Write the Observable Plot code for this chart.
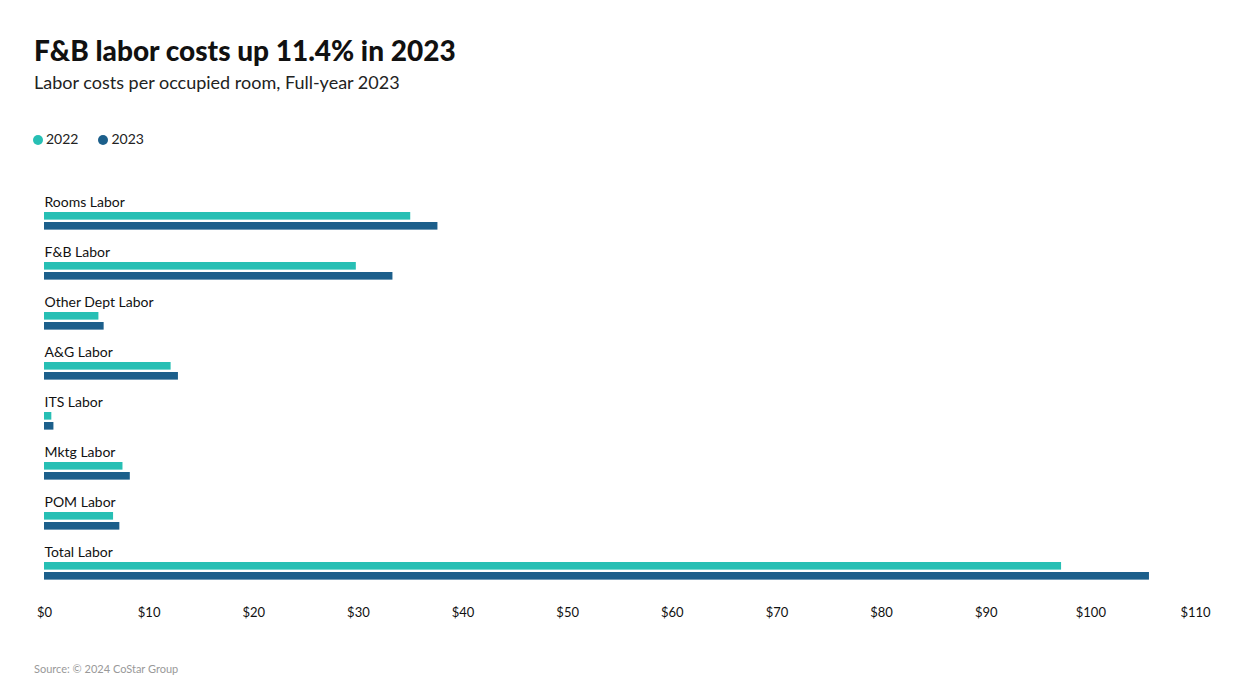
<!DOCTYPE html>
<html>
<head>
<meta charset="utf-8">
<script src="https://cdn.jsdelivr.net/npm/d3@7"></script>
<script src="https://cdn.jsdelivr.net/npm/@observablehq/plot@0.6"></script>
<style>
  html, body { margin: 0; padding: 0; background: #fff; width: 1245px; height: 700px; overflow: hidden; }
  body { font-family: Lato, "Noto Sans", sans-serif; color: #111; position: relative; }
  .abs { position: absolute; white-space: nowrap; }
  #title { left: 34px; top: 34px; font-size: 28px; line-height: 32px; font-weight: 900; color: #111; }
  #subtitle { left: 34px; top: 71px; font-size: 18px; line-height: 22px; color: #222; }
  #legend { left: 33px; top: 130px; font-size: 14px; line-height: 18px; color: #222; display: flex; gap: 20px; }
  #legend span.sw { display: inline-block; width: 10px; height: 10px; border-radius: 50%; margin-right: 3px; vertical-align: -1px; }
  #source { left: 34px; top: 662px; font-size: 11px; line-height: 14px; color: #999; }
  #chart { left: 0; top: 160px; }
</style>
</head>
<body>
<div id="title" class="abs">F&amp;B labor costs up 11.4% in 2023</div>
<div id="subtitle" class="abs">Labor costs per occupied room, Full-year 2023</div>
<div id="legend" class="abs"></div>
<div id="chart" class="abs"></div>
<div id="source" class="abs">Source: © 2024 CoStar Group</div>
<script>
const categories = ["Rooms Labor", "F&B Labor", "Other Dept Labor", "A&G Labor", "ITS Labor", "Mktg Labor", "POM Labor", "Total Labor"];
const values2022 = [35.0, 29.8, 5.2, 12.1, 0.7, 7.5, 6.6, 97.2];
const values2023 = [37.6, 33.3, 5.7, 12.8, 0.9, 8.2, 7.2, 105.6];
const seriesNames = ["2022", "2023"];
const seriesColors = ["#27bfb4", "#1c5f8b"];
const xTicks = [0, 10, 20, 30, 40, 50, 60, 70, 80, 90, 100, 110];

const legend = document.getElementById("legend");
seriesNames.forEach((s, i) => {
  const item = document.createElement("div");
  item.innerHTML = `<span class="sw" style="background:${seriesColors[i]}"></span>${s}`;
  legend.appendChild(item);
});

const data2022 = categories.map((c, i) => ({category: c, value: values2022[i]}));
const data2023 = categories.map((c, i) => ({category: c, value: values2023[i]}));

const height = 473, marginTop = 30, marginBottom = 40;
const band = (height - marginTop - marginBottom) / categories.length;

const chart = Plot.plot({
  width: 1245,
  height,
  marginLeft: 44,
  marginRight: 50,
  marginTop,
  marginBottom,
  style: {fontFamily: "Lato, 'Noto Sans', sans-serif", fontSize: "14px", color: "#111", background: "transparent"},
  x: {domain: [0, 110], ticks: xTicks, label: null},
  y: {domain: categories, padding: 0, axis: null},
  marks: [
    Plot.barX(data2022, {x: "value", y: "category", fill: seriesColors[0], insetTop: 20, insetBottom: band - 28}),
    Plot.barX(data2023, {x: "value", y: "category", fill: seriesColors[1], insetTop: 30, insetBottom: band - 38}),
    Plot.text(categories, {y: d => d, x: 0, text: d => d, textAnchor: "start", dy: -(band / 2 - 10), fontSize: 14, fill: "#111"}),
    Plot.axisX({ticks: xTicks, tickSize: 0, tickPadding: 14, tickFormat: d => "$" + d, fontSize: 13, fill: "#111", label: null})
  ]
});
document.getElementById("chart").appendChild(chart);
</script>
</body>
</html>
